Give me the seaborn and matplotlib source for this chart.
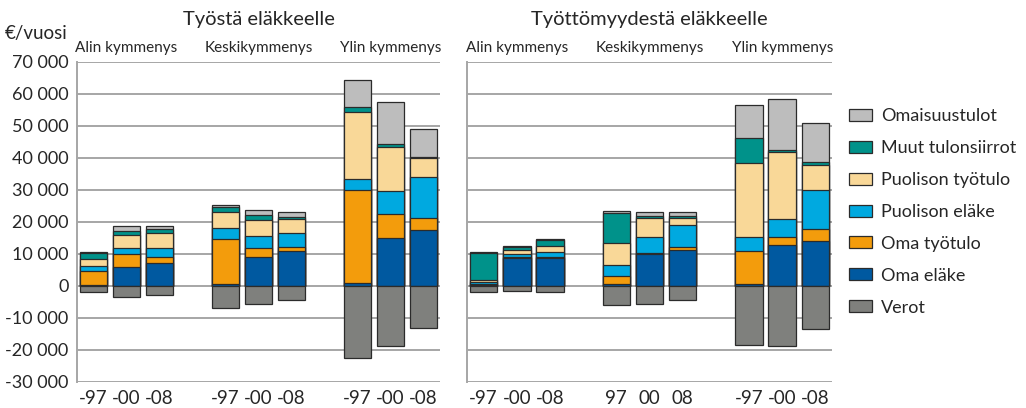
import numpy as np
import pandas as pd
import matplotlib
matplotlib.use("Agg")
import matplotlib.pyplot as plt
import seaborn as sns
from matplotlib.patches import Patch

# ============================
# DATA (EUR / year)
# ============================
groups = ["Alin kymmenys", "Keskikymmenys", "Ylin kymmenys"]
labels_left = ["-97", "-00", "-08", "-97", "-00", "-08", "-97", "-00", "-08"]
labels_right = ["-97", "-00", "-08", "97", "00", "08", "-97", "-00", "-08"]

# Työstä eläkkeelle
tyo_oma_elake = [200, 5900, 7200, 500, 9000, 10800, 1000, 15000, 17500]
tyo_oma_tyotulo = [4400, 4000, 1850, 14300, 2800, 1250, 28900, 7400, 3850]
tyo_puolison_elake = [1700, 1900, 2900, 3400, 3750, 4500, 3400, 7300, 12600]
tyo_puolison_tyotulo = [2100, 4050, 4700, 4800, 5200, 4400, 21000, 13600, 5950]
tyo_muut = [1900, 1350, 1150, 1600, 1350, 600, 1550, 1150, 300]
tyo_omaisuus = [300, 1650, 1050, 700, 1550, 1450, 8450, 12900, 8850]
tyo_verot = [-1900, -3500, -2700, -7000, -5600, -4300, -22600, -18700, -13200]

# Työttömyydestä eläkkeelle
tton_oma_elake = [300, 8650, 8750, 500, 10100, 11150, 500, 12700, 13950]
tton_oma_tyotulo = [300, 300, 400, 2600, 200, 900, 10400, 2500, 3750]
tton_puolison_elake = [800, 900, 1550, 3550, 4900, 6900, 4300, 5600, 12200]
tton_puolison_tyotulo = [500, 1250, 1650, 6800, 6050, 2200, 23100, 20950, 8000]
tton_muut = [8400, 1150, 1900, 9400, 700, 700, 8100, 850, 700]
tton_omaisuus = [200, 300, 300, 500, 1050, 1150, 10300, 15900, 12400]
tton_verot = [-1750, -1700, -1800, -5800, -5700, -4500, -18300, -18850, -13500]

# stacking order, bottom -> top
components = ["Oma eläke", "Oma työtulo", "Puolison eläke",
              "Puolison työtulo", "Muut tulonsiirrot", "Omaisuustulot"]
colors = {
    "Omaisuustulot": "#BDBDBD",
    "Muut tulonsiirrot": "#00928A",
    "Puolison työtulo": "#F9D898",
    "Puolison eläke": "#00A9E0",
    "Oma työtulo": "#F39C0C",
    "Oma eläke": "#0059A0",
    "Verot": "#7F807D",
}

positions = [0, 1, 2, 4, 5, 6, 8, 9, 10]

panels = [
    ("Työstä eläkkeelle", labels_left,
     [tyo_oma_elake, tyo_oma_tyotulo, tyo_puolison_elake,
      tyo_puolison_tyotulo, tyo_muut, tyo_omaisuus], tyo_verot),
    ("Työttömyydestä eläkkeelle", labels_right,
     [tton_oma_elake, tton_oma_tyotulo, tton_puolison_elake,
      tton_puolison_tyotulo, tton_muut, tton_omaisuus], tton_verot),
]

# ============================
# STYLE
# ============================
sns.set_style("white")
plt.rcParams["font.family"] = ["Lato", "DejaVu Sans"]
grid_col = "#A6A6A6"
edge_col = "#2B2B2B"

fig = plt.figure(figsize=(10.26, 4.08), dpi=100)
ax_left = fig.add_axes([77 / 1026, 1 - 382 / 408, 363 / 1026, 320 / 408])
ax_right = fig.add_axes([467 / 1026, 1 - 382 / 408, 365 / 1026, 320 / 408])

for ax, (title, xlabels, parts, verot) in zip([ax_left, ax_right], panels):
    # long table with cumulative heights
    rows = []
    for comp, vals in zip(components, parts):
        for p, v in zip(positions, vals):
            rows.append({"pos": p, "component": comp, "value": v})
    df = pd.DataFrame(rows)
    df["cum"] = df.groupby("pos")["value"].cumsum()

    for y in range(-30000, 70001, 10000):
        ax.axhline(y, color=grid_col, lw=1.4, zorder=0)

    # draw from top of stack downwards so lower segments overlay
    for comp in components[::-1]:
        sub = df[df["component"] == comp]
        sns.barplot(data=sub, x="pos", y="cum", native_scale=True,
                    width=0.83, color=colors[comp], saturation=1,
                    edgecolor=edge_col, linewidth=0.9, errorbar=None,
                    ax=ax, zorder=2)
    sns.barplot(x=positions, y=verot, native_scale=True, width=0.83,
                color=colors["Verot"], saturation=1, edgecolor=edge_col,
                linewidth=0.9, errorbar=None, ax=ax, zorder=2)

    ax.set_xlim(-0.5, 10.5)
    ax.set_ylim(-30000, 70000)
    ax.set_yticks(range(-30000, 70001, 10000))
    ax.set_xticks(positions)
    ax.set_xticklabels(xlabels, fontsize=13.5)
    ax.set_xlabel("")
    ax.set_ylabel("")
    ax.tick_params(axis="x", length=0, pad=6)
    ax.tick_params(axis="y", length=3, width=1.2, color=grid_col, pad=3)
    for s in ["top", "right", "bottom"]:
        ax.spines[s].set_visible(False)
    ax.spines["left"].set_color(grid_col)
    ax.spines["left"].set_linewidth(1.4)

    for g, name in enumerate(groups):
        ax.text(positions[g * 3 + 1], 74400, name, ha="center", va="center",
                fontsize=11, clip_on=False)

    cx = ax.get_position().x0 + ax.get_position().width / 2
    fig.text(cx, 1 - 20 / 408, title, ha="center", va="center", fontsize=14.5)

ax_left.set_yticklabels([f"{v:,}".replace(",", " ") for v in range(-30000, 70001, 10000)],
                        fontsize=13)
ax_right.set_yticklabels([])

fig.text(36 / 1026, 1 - 34 / 408, "€/vuosi", ha="center", va="center", fontsize=13.5)

legend_order = ["Omaisuustulot", "Muut tulonsiirrot", "Puolison työtulo",
                "Puolison eläke", "Oma työtulo", "Oma eläke", "Verot"]
handles = [Patch(facecolor=colors[c], edgecolor=edge_col, linewidth=0.9)
           for c in legend_order]
fig.legend(handles, legend_order, loc="upper left",
           bbox_to_anchor=(842 / 1026, 1 - 101 / 408), frameon=False,
           fontsize=13, handlelength=1.25, handleheight=0.65,
           labelspacing=0.88, handletextpad=0.5, borderaxespad=0)

fig.savefig("out.png", dpi=100)
